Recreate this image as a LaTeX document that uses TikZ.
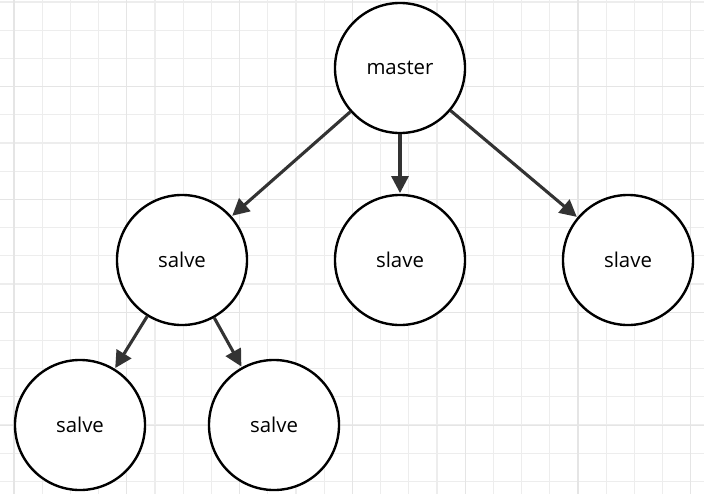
\documentclass[tikz,border=0pt]{standalone}
\usepackage{fontspec}
\setmainfont{Open Sans}
\usetikzlibrary{arrows.meta}
\tikzset{
  box/.style={circle, draw=black, line width=1.7pt, minimum size=3.25cm, inner sep=0pt, font=\fontsize{14.5}{17}\selectfont},
  link/.style={-{Triangle[length=12pt,width=12pt]}, draw=black!80, line width=2.2pt, shorten >=0.5pt}
}
\begin{document}
\begin{tikzpicture}[x=0.025cm,y=-0.025cm]
			\useasboundingbox (0,0) rectangle (704,494);
			\foreach \i in {0,...,24} {
				\draw[black!7, line width=0.8pt] (14+28.2*\i,0) -- (14+28.2*\i,494);
			}
			\foreach \i in {0,...,17} {
				\draw[black!7, line width=0.8pt] (0,2+28.2*\i) -- (704,2+28.2*\i);
			}
			\foreach \i in {0,...,6} {
				\draw[black!10, line width=0.8pt] (14+112.8*\i,0) -- (14+112.8*\i,494);
			}
			\foreach \i in {0,...,4} {
				\draw[black!10, line width=0.8pt] (0,-26+112.8*\i) -- (704,-26+112.8*\i);
			}
			\node[box, fill=white] (master) at (400,68) {master};
			\node[box, fill=white] (salve) at (182,260) {salve};
			\node[box, fill=white] (slave1) at (400,260) {slave};
			\node[box, fill=white] (slave2) at (628,260) {slave};
			\node[box, fill=white] (salve1) at (80,425) {salve};
			\node[box, fill=white] (salve2) at (274,425) {salve};
			\draw[link] (master) -- (salve);
			\draw[link] (master) -- (slave1);
			\draw[link] (master) -- (slave2);
			\draw[link] (salve) -- (salve1);
			\draw[link] (salve) -- (salve2);
		\end{tikzpicture}
\end{document}
